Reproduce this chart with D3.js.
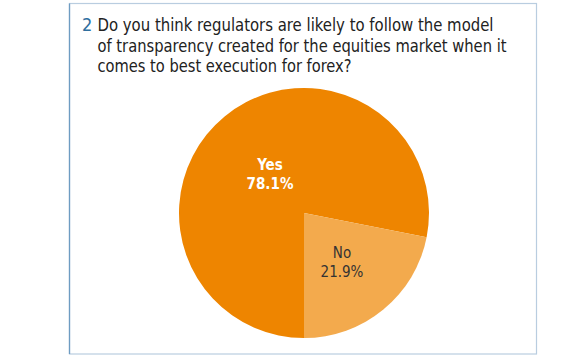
<!DOCTYPE html>
<html><head><meta charset="utf-8">
<script src="https://cdn.jsdelivr.net/npm/d3@7"></script>
<style>html,body{margin:0;padding:0;background:#fff;}svg{display:block;}</style>
</head><body>
<svg id="c" width="580" height="358"></svg>
<script>
const questionNumber = "2";
const titleLines = [
  "Do you think regulators are likely to follow the model",
  "of transparency created for the equities market when it",
  "comes to best execution for forex?"
];
const categories = ["Yes", "No"];
const values = [78.1, 21.9];
const colors = ["#EE8500", "#F3AA4D"];
const labelColors = ["#ffffff", "#333333"];

const svg = d3.select("#c");
const font = "'DejaVu Sans Condensed', 'Liberation Sans Narrow', sans-serif";

// frame
svg.append("rect").attr("x", 69.5).attr("y", 3.5).attr("width", 467).attr("height", 350.5)
  .attr("fill", "#fff").attr("stroke", "#b9cde0").attr("stroke-width", 1.2);
svg.append("line").attr("x1", 69.5).attr("x2", 69.5).attr("y1", 3.5).attr("y2", 354)
  .attr("stroke", "#6e9cc2").attr("stroke-width", 1.3);

// title
const titleWidths = [396, 409, 254];
const tg = svg.append("g").attr("font-family", font).attr("font-stretch", "condensed")
  .attr("font-size", 18).attr("fill", "#222");
tg.append("text").attr("x", 82).attr("y", 31).attr("fill", "#2f6f9f").text(questionNumber);
titleLines.forEach((t, i) => tg.append("text").attr("x", 97.5).attr("y", 31 + i * 20.5)
  .attr("textLength", titleWidths[i]).attr("lengthAdjust", "spacingAndGlyphs").text(t));

// pie
const cx = 304, cy = 213, r = 125;
const pie = d3.pie().sort(null).startAngle(Math.PI).endAngle(3 * Math.PI);
const arcs = pie(values);
const arc = d3.arc().innerRadius(0).outerRadius(r);
const g = svg.append("g").attr("transform", `translate(${cx},${cy})`);
g.selectAll("path").data(arcs).enter().append("path")
  .attr("d", arc).attr("fill", (d, i) => colors[i]);

const labelPos = [[-34, -43], [38, 45]];
const lg = g.selectAll("g.lbl").data(arcs).enter().append("g")
  .attr("transform", (d, i) => `translate(${labelPos[i][0]},${labelPos[i][1]})`)
  .attr("font-family", font).attr("font-stretch", "condensed").attr("font-size", 15)
  .attr("text-anchor", "middle")
  .attr("fill", (d, i) => labelColors[i]).attr("font-weight", (d, i) => i === 0 ? "bold" : "normal");
lg.append("text").attr("y", 0).text((d, i) => categories[i]);
lg.append("text").attr("y", 19).text((d, i) => values[i].toFixed(1) + "%");
</script>
</body></html>
